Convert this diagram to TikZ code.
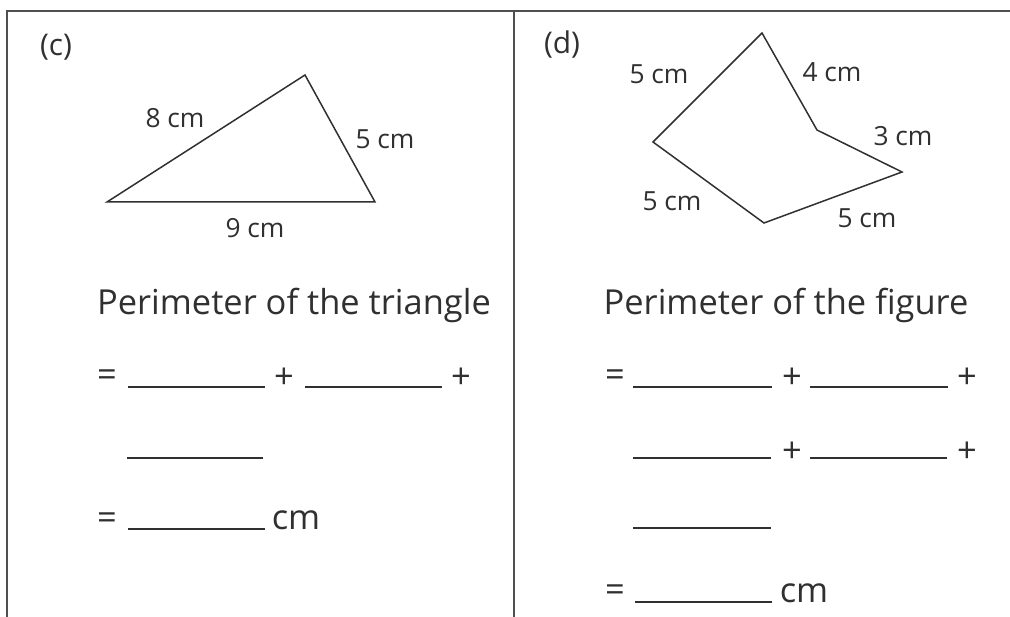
\documentclass[tikz,border=0pt]{standalone}
\usepackage{fontspec}
\setmainfont{Open Sans}
\definecolor{ink}{HTML}{303030}
\tikzset{
  side/.style={font=\fontsize{15}{18}\selectfont, text=ink, inner sep=0pt},
  big/.style={font=\fontsize{19.6}{23}\selectfont, text=ink, inner sep=0pt},
  edge/.style={draw=ink, line width=0.85pt, line join=miter},
  blank/.style={draw=ink, line width=0.85pt},
}
\begin{document}
\begin{tikzpicture}[x=0.02cm,y=-0.02cm]
\useasboundingbox (0,0) rectangle (1010,617);
% frame
\draw[ink!85,line width=1.2pt] (7,617) -- (7,11) -- (1010,11);
\draw[ink!85,line width=1.2pt] (514,11) -- (514,617);
% part labels
\node[big,font=\fontsize{17}{20}\selectfont] (labc) at (56,47) {(c)};
\node[big,font=\fontsize{17}{20}\selectfont] (labd) at (562,45) {(d)};
% triangle
\coordinate (A) at (107,202);
\coordinate (B) at (305,75);
\coordinate (C) at (375,202);
\draw[edge] (A) -- (B) -- (C) -- cycle;
\node[side] (ab) at (175,118) {8 cm};
\node[side] (bc) at (385,139) {5 cm};
\node[side] (ca) at (255,228) {9 cm};
% figure
\coordinate (P) at (762,33);
\coordinate (Q) at (817,130);
\coordinate (R) at (902,172);
\coordinate (S) at (764,223);
\coordinate (T) at (653,142);
\draw[edge] (P) -- (Q) -- (R) -- (S) -- (T) -- cycle;
\node[side] (tp) at (659,74) {5 cm};
\node[side] (pq) at (832,72) {4 cm};
\node[side] (qr) at (903,136) {3 cm};
\node[side] (st) at (672,201) {5 cm};
\node[side] (rs) at (867,218) {5 cm};
% left working
\node[big,anchor=base] (tri) at (294,315) {Perimeter of the triangle};
\node[big] (eq1) at (107,378) {=};
\draw[blank] (128,387) -- (265,387);
\node[big] (pl1) at (284,378) {+};
\draw[blank] (305,387) -- (442,387);
\node[big] (pl2) at (461,378) {+};
\draw[blank] (127,458) -- (263,458);
\node[big] (eq2) at (107,521) {=};
\draw[blank] (128,529) -- (265,529);
\node[big] (cm1) at (296,520) {cm};
% right working
\node[big,anchor=base] (fig) at (786,315) {Perimeter of the figure};
\node[big] (eq3) at (615,378) {=};
\draw[blank] (633,387) -- (772,387);
\node[big] (pl3) at (792,378) {+};
\draw[blank] (810,387) -- (948,387);
\node[big] (pl4) at (967,378) {+};
\draw[blank] (633,458) -- (771,458);
\node[big] (pl5) at (792,452) {+};
\draw[blank] (810,458) -- (947,458);
\node[big] (pl6) at (967,452) {+};
\draw[blank] (633,528) -- (771,528);
\node[big] (eq4) at (615,593) {=};
\draw[blank] (635,602) -- (772,602);
\node[big] (cm2) at (804,593) {cm};
\end{tikzpicture}
\end{document}
